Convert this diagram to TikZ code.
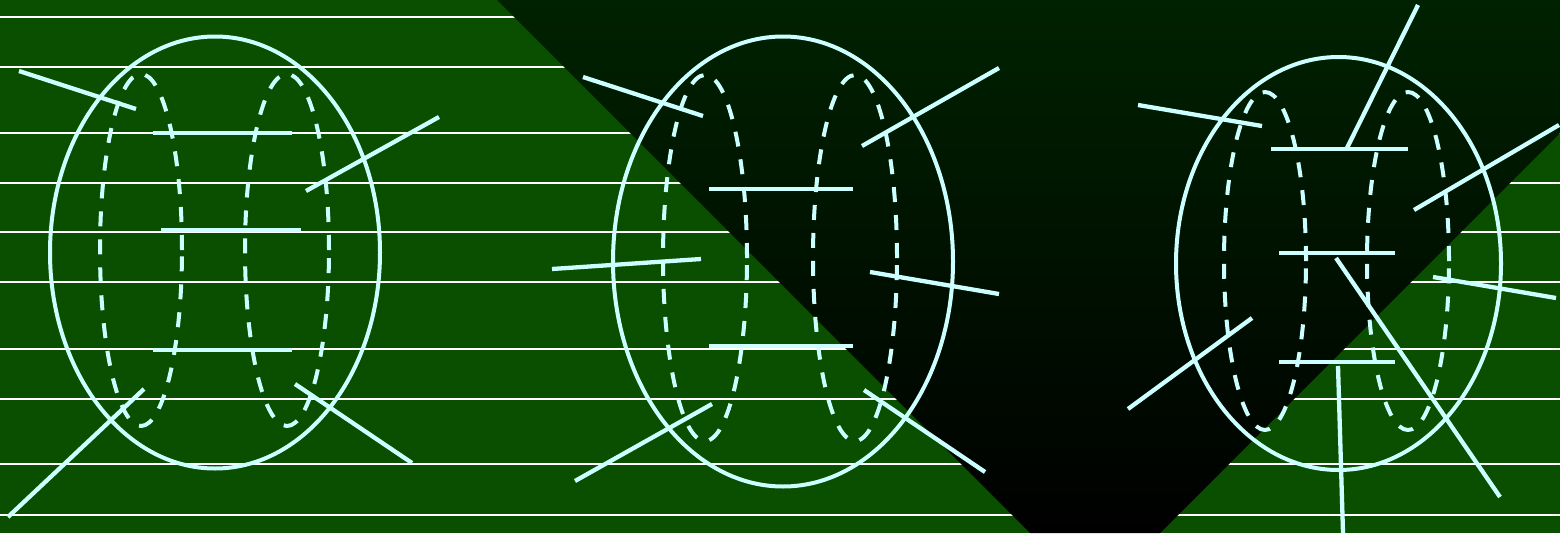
\documentclass[tikz,border=0pt]{standalone}
\definecolor{bggreen}{RGB}{10,78,0}
\definecolor{darktop}{RGB}{0,34,0}
\definecolor{lc}{RGB}{204,255,255}
\begin{document}
\begin{tikzpicture}[x=1pt,y=-1pt,
  rule/.style={white,line width=1.1pt},
  outer/.style={lc,line width=4pt},
  dashell/.style={lc,line width=4pt,dash pattern=on 15pt off 13pt},
  bar/.style={lc,line width=4.3pt},
  chord/.style={lc,line width=4.3pt}]
\fill[bggreen] (0,0) rectangle (1560,533);
\useasboundingbox (0,0) rectangle (1560,533);
\foreach \y in {17,67,133,183,232,282,349,399,464,515}
  \draw[rule] (0,\y) -- (1560,\y);
\shade[top color=darktop,bottom color=black]
  (497,0) -- (1560,0) -- (1560,133) -- (1160,533) -- (1030,533) -- cycle;

% ---- figure 1
\draw[outer] (215,252.5) ellipse [x radius=165pt, y radius=216pt];
\draw[dashell] (141,250) ellipse [x radius=41pt, y radius=176pt];
\draw[dashell] (287,250) ellipse [x radius=42pt, y radius=176pt];
\draw[bar] (153,133) -- (292,133);
\draw[bar] (161,230) -- (301,230);
\draw[bar] (153,350) -- (292,350);
\coordinate (a1) at (19,71);   \coordinate (a2) at (136,109);
\coordinate (b1) at (439,117); \coordinate (b2) at (306,191);
\coordinate (c1) at (144,389); \coordinate (c2) at (8,517);
\coordinate (d1) at (295,384); \coordinate (d2) at (412,463);
\draw[chord] (a1) -- (a2);
\draw[chord] (b1) -- (b2);
\draw[chord] (c1) -- (c2);
\draw[chord] (d1) -- (d2);

% ---- figure 2
\draw[outer] (783,261.5) ellipse [x radius=170pt, y radius=225pt];
\draw[dashell] (705,258) ellipse [x radius=42pt, y radius=183pt];
\draw[dashell] (855,258) ellipse [x radius=42pt, y radius=183pt];
\draw[bar] (709,189) -- (853,189);
\draw[bar] (709,346) -- (853,346);
\coordinate (e1) at (583,77);  \coordinate (e2) at (703,116);
\coordinate (f1) at (999,68);  \coordinate (f2) at (862,146);
\coordinate (g1) at (552,269); \coordinate (g2) at (701,259);
\coordinate (h1) at (870,272); \coordinate (h2) at (999,294);
\coordinate (i1) at (712,404); \coordinate (i2) at (575,481);
\coordinate (j1) at (864,390); \coordinate (j2) at (985,472);
\draw[chord] (e1) -- (e2);
\draw[chord] (f1) -- (f2);
\draw[chord] (g1) -- (g2);
\draw[chord] (h1) -- (h2);
\draw[chord] (i1) -- (i2);
\draw[chord] (j1) -- (j2);

% ---- figure 3
\draw[outer] (1338.5,263.5) ellipse [x radius=162.5pt, y radius=206.5pt];
\draw[dashell] (1265,261) ellipse [x radius=41pt, y radius=169pt];
\draw[dashell] (1408,261) ellipse [x radius=41pt, y radius=169pt];
\draw[bar] (1271,149) -- (1408,149);
\draw[bar] (1279,253) -- (1395,253);
\draw[bar] (1279,362) -- (1395,362);
\coordinate (k1) at (1138,105); \coordinate (k2) at (1262,126);
\coordinate (l1) at (1418,5);   \coordinate (l2) at (1347,148);
\coordinate (m1) at (1559,125); \coordinate (m2) at (1414,210);
\coordinate (n1) at (1433,277); \coordinate (n2) at (1556,298);
\coordinate (o1) at (1252,318); \coordinate (o2) at (1128,409);
\coordinate (p1) at (1336,258); \coordinate (p2) at (1500,497);
\coordinate (q1) at (1338,366); \coordinate (q2) at (1343,533);
\draw[chord] (k1) -- (k2);
\draw[chord] (l1) -- (l2);
\draw[chord] (m1) -- (m2);
\draw[chord] (n1) -- (n2);
\draw[chord] (o1) -- (o2);
\draw[chord] (p1) -- (p2);
\draw[chord] (q1) -- (q2);
\end{tikzpicture}
\end{document}
